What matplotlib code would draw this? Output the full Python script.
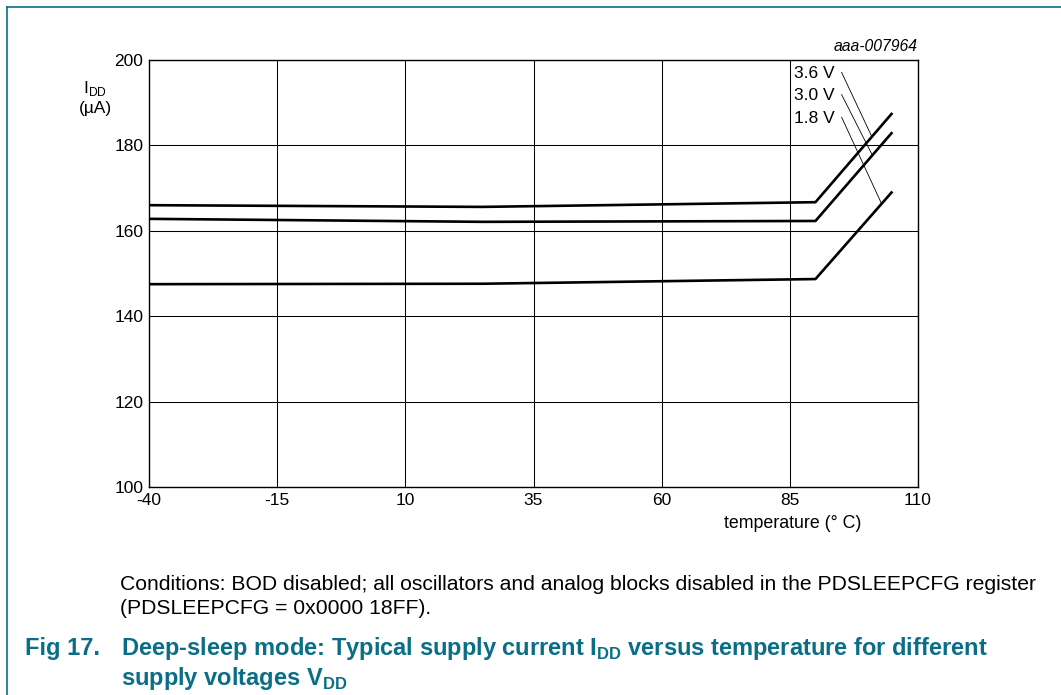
import matplotlib.pyplot as plt
from matplotlib.lines import Line2D

plt.rcParams['font.family'] = ['Liberation Sans', 'DejaVu Sans']

# data
temperature = [-40, 25, 90, 105]
idd_36 = [166.0, 165.6, 166.7, 187.6]
idd_30 = [162.8, 162.1, 162.3, 183.1]
idd_18 = [147.5, 147.6, 148.7, 169.2]
labels = ['3.6 V', '3.0 V', '1.8 V']
label_y = [196.8, 191.6, 186.3]
leader_x = [101.0, 101.1, 102.9]

x_ticks = [-40, -15, 10, 35, 60, 85, 110]
y_ticks = [100, 120, 140, 160, 180, 200]

teal = '#0a6e87'

fig = plt.figure(figsize=(10.61, 6.95), dpi=100)
ax = fig.add_axes([149 / 1061, 1 - 487 / 695, 769 / 1061, 427 / 695])

for series in (idd_36, idd_30, idd_18):
    ax.plot(temperature, series, color='black', lw=1.9, solid_capstyle='butt', zorder=3)

ax.set_xlim(-40, 110)
ax.set_ylim(100, 200)
ax.set_xticks(x_ticks)
ax.set_yticks(y_ticks)
ax.set_xticklabels([str(t) for t in x_ticks])
ax.grid(True, color='black', lw=0.75)
ax.tick_params(length=0, labelsize=12.5, pad=4)
for s in ax.spines.values():
    s.set_linewidth(1.0)

# curve labels with leader lines
for name, ly, series, lx in zip(labels, label_y, (idd_36, idd_30, idd_18), leader_x):
    ax.text(85.9, ly, name, fontsize=12.5, ha='left', va='center')
    x0, x1 = temperature[2], temperature[3]
    y0, y1 = series[2], series[3]
    py = y0 + (y1 - y0) * (lx - x0) / (x1 - x0)
    ax.plot([95.1, lx], [ly + 0.3, py], color='black', lw=0.6, zorder=4)

ax.text(1.0, 1 + 6 / 427, 'aaa-007964', transform=ax.transAxes, ha='right', va='bottom',
        fontsize=11.3, style='italic')

fig.text(95 / 1061, 1 - 89 / 695, r'I$_{\mathregular{DD}}$', ha='center', va='center', fontsize=12.5)
fig.text(95 / 1061, 1 - 108 / 695, '(µA)', ha='center', va='center', fontsize=12.5)
fig.text(793 / 1061, 1 - 524 / 695, 'temperature (° C)', ha='center', va='center', fontsize=12.8)

fig.text(120 / 1061, 1 - 584 / 695,
         'Conditions: BOD disabled; all oscillators and analog blocks disabled in the PDSLEEPCFG register',
         ha='left', va='center', fontsize=15.2)
fig.text(120 / 1061, 1 - 609 / 695, '(PDSLEEPCFG = 0x0000 18FF).',
         ha='left', va='center', fontsize=15.2)

fig.text(25 / 1061, 1 - 649 / 695, 'Fig 17.',
         ha='left', va='center', fontsize=17, fontweight='bold', color=teal)
fig.text(121 / 1061, 1 - 649 / 695,
         r'Deep-sleep mode: Typical supply current I$_{\mathregular{DD}}$ versus temperature for different',
         ha='left', va='center', fontsize=17, fontweight='bold', color=teal)
fig.text(121 / 1061, 1 - 679 / 695, r'supply voltages V$_{\mathregular{DD}}$',
         ha='left', va='center', fontsize=17, fontweight='bold', color=teal)

# page frame
fig.add_artist(Line2D([7 / 1061, 1.0], [1 - 7 / 695, 1 - 7 / 695], color=teal, lw=1.2))
fig.add_artist(Line2D([7 / 1061, 7 / 1061], [0.0, 1 - 7 / 695], color=teal, lw=1.2))

fig.savefig('out.png', dpi=100)
